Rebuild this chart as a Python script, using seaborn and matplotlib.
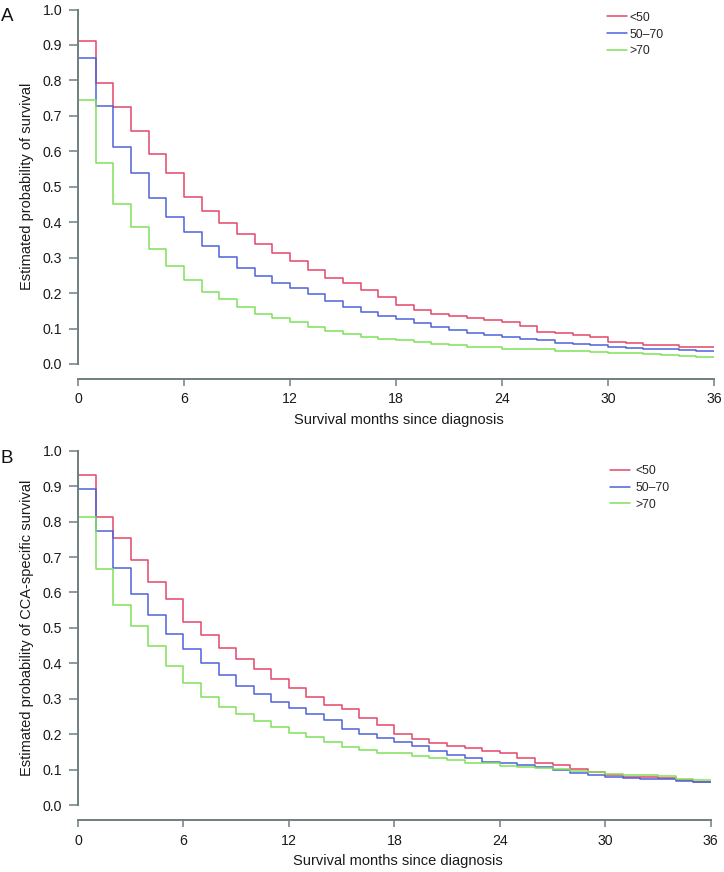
import numpy as np
import pandas as pd
import matplotlib
matplotlib.use("Agg")
import matplotlib.pyplot as plt
import seaborn as sns

# survival estimates per month (months 0..35)
GROUPS = ["<50", "50\u201370", ">70"]
COLORS = ["#E4476A", "#4D62DA", "#80E05A"]

surv_a_lt50 = [0.912, 0.792, 0.724, 0.656, 0.592, 0.538, 0.472, 0.432, 0.397, 0.366,
               0.338, 0.312, 0.291, 0.265, 0.243, 0.229, 0.210, 0.190, 0.166, 0.152,
               0.141, 0.135, 0.131, 0.124, 0.119, 0.108, 0.091, 0.088, 0.082, 0.075,
               0.062, 0.059, 0.054, 0.054, 0.049, 0.049]
surv_a_50_70 = [0.863, 0.728, 0.613, 0.538, 0.469, 0.416, 0.372, 0.334, 0.301, 0.272,
                0.249, 0.229, 0.213, 0.197, 0.179, 0.160, 0.147, 0.135, 0.126, 0.115,
                0.105, 0.096, 0.087, 0.081, 0.075, 0.071, 0.068, 0.060, 0.056, 0.053,
                0.047, 0.044, 0.042, 0.042, 0.040, 0.037]
surv_a_gt70 = [0.744, 0.566, 0.451, 0.386, 0.324, 0.275, 0.237, 0.202, 0.183, 0.162,
               0.141, 0.131, 0.118, 0.105, 0.094, 0.084, 0.076, 0.071, 0.068, 0.061,
               0.056, 0.053, 0.049, 0.047, 0.042, 0.041, 0.041, 0.038, 0.037, 0.034,
               0.030, 0.030, 0.028, 0.025, 0.023, 0.021]

surv_b_lt50 = [0.931, 0.812, 0.753, 0.691, 0.629, 0.581, 0.517, 0.480, 0.444, 0.411,
               0.383, 0.355, 0.331, 0.304, 0.282, 0.271, 0.246, 0.226, 0.200, 0.187,
               0.174, 0.167, 0.161, 0.153, 0.146, 0.134, 0.118, 0.112, 0.103, 0.093,
               0.084, 0.080, 0.078, 0.076, 0.070, 0.066]
surv_b_50_70 = [0.893, 0.774, 0.668, 0.597, 0.537, 0.483, 0.439, 0.402, 0.367, 0.336,
                0.313, 0.292, 0.273, 0.257, 0.240, 0.216, 0.201, 0.188, 0.178, 0.167,
                0.152, 0.142, 0.132, 0.121, 0.118, 0.112, 0.106, 0.099, 0.091, 0.086,
                0.080, 0.076, 0.074, 0.073, 0.069, 0.065]
surv_b_gt70 = [0.812, 0.667, 0.566, 0.504, 0.449, 0.392, 0.345, 0.306, 0.277, 0.256,
               0.237, 0.219, 0.204, 0.191, 0.178, 0.164, 0.154, 0.148, 0.146, 0.139,
               0.132, 0.126, 0.119, 0.118, 0.111, 0.108, 0.105, 0.102, 0.097, 0.093,
               0.087, 0.085, 0.084, 0.083, 0.073, 0.070]

X_TICKS = [0, 6, 12, 18, 24, 30, 36]
Y_TICKS = [0.0, 0.1, 0.2, 0.3, 0.4, 0.5, 0.6, 0.7, 0.8, 0.9, 1.0]
XLABEL = "Survival months since diagnosis"
YLABEL_A = "Estimated probability of survival"
YLABEL_B = "Estimated probability of CCA-specific survival"

AXIS_COLOR = "#6F7F80"


def km_frame(series):
    # step curves start at 1.0 and drop at t=0
    rows = []
    for name, vals in zip(GROUPS, series):
        months = [0] + list(range(len(vals) + 1))
        surv = [1.0] + list(vals) + [vals[-1]]
        for m, s in zip(months, surv):
            rows.append({"month": m, "surv": s, "group": name})
    return pd.DataFrame(rows)


def draw_panel(ax, series, ylabel, leg_anchor, text_pad):
    df = km_frame(series)
    sns.lineplot(data=df, x="month", y="surv", hue="group", hue_order=GROUPS,
                 palette=COLORS, estimator=None, sort=False,
                 drawstyle="steps-post", linewidth=1.1, ax=ax)

    ax.set_xlim(0, 36)
    ax.set_ylim(0, 1.0)
    ax.set_xticks(X_TICKS)
    ax.set_xticklabels([str(t) for t in X_TICKS])
    ax.set_yticks(Y_TICKS)
    ax.set_yticklabels([f"{t:.1f}" for t in Y_TICKS])

    sns.despine(ax=ax)
    ax.spines["bottom"].set_position(("outward", 10.8))
    ax.spines["bottom"].set_bounds(0, 36)
    ax.spines["left"].set_bounds(0, 1.0)
    for sp in ("left", "bottom"):
        ax.spines[sp].set_color(AXIS_COLOR)
        ax.spines[sp].set_linewidth(1.4)

    ax.tick_params(axis="y", length=6.5, width=1.1, color=AXIS_COLOR, pad=5,
                   labelsize=10.2, labelcolor="#1a1a1a")
    ax.tick_params(axis="x", length=5.3, width=1.1, color=AXIS_COLOR, pad=4.4,
                   labelsize=10.2, labelcolor="#1a1a1a")

    ax.set_xlabel(XLABEL, fontsize=10.5, color="#1a1a1a")
    ax.set_ylabel(ylabel, fontsize=10.5, color="#1a1a1a")
    ax.xaxis.set_label_coords(0.505, -0.138)
    ax.yaxis.set_label_coords(-0.069, 0.5)

    handles, labels = ax.get_legend_handles_labels()
    ax.legend(handles, labels, loc="upper left", bbox_to_anchor=leg_anchor,
              frameon=False, fontsize=8.8, handlelength=1.6,
              handletextpad=text_pad, labelspacing=0.4, borderpad=0,
              borderaxespad=0)


def main():
    sns.set_theme(style="ticks")
    plt.rcParams["font.family"] = ["Liberation Sans", "DejaVu Sans"]

    fig = plt.figure(figsize=(7.24, 8.72), dpi=100)
    ax_a = fig.add_axes([0.1077, 0.5826, 0.8785, 0.4065])
    ax_b = fig.add_axes([0.1077, 0.0768, 0.8739, 0.4063])

    draw_panel(ax_a, [surv_a_lt50, surv_a_50_70, surv_a_gt70], YLABEL_A,
               (0.832, 0.994), 0.25)
    draw_panel(ax_b, [surv_b_lt50, surv_b_50_70, surv_b_gt70], YLABEL_B,
               (0.841, 0.96), 0.5)

    fig.text(1 / 724, 1 - 20.7 / 872, "A", fontsize=13.5, ha="left",
             va="baseline", color="#111111")
    fig.text(1 / 724, 1 - 462.7 / 872, "B", fontsize=13.5, ha="left",
             va="baseline", color="#111111")

    fig.savefig("out.png", dpi=100, facecolor="white")


if __name__ == "__main__":
    main()
